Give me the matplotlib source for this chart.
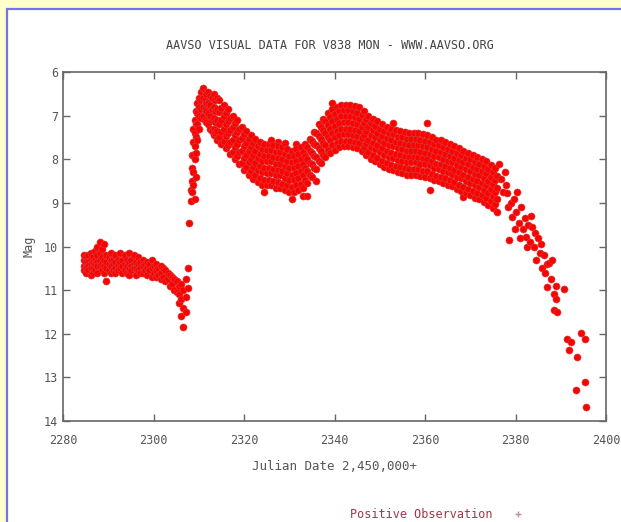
import matplotlib
matplotlib.use('Agg')
import matplotlib.pyplot as plt
from matplotlib.patches import Rectangle
from matplotlib.lines import Line2D

# --- data (JD - 2,450,000, visual mag) ---

# quiescence before the outburst, one list of estimates per night
jd_quiet = [2284.6, 2285.1, 2285.6, 2286.1, 2286.6, 2287.1, 2287.6, 2288.1, 2288.6, 2289.1,
            2289.6, 2290.1, 2290.6, 2291.1, 2291.6, 2292.1, 2292.6, 2293.1, 2293.6, 2294.1,
            2294.6, 2295.1, 2295.6, 2296.1, 2296.6, 2297.1, 2297.6, 2298.1, 2298.6, 2299.1,
            2299.6, 2300.1, 2300.6, 2301.1, 2301.6, 2302.1, 2302.6, 2303.1, 2303.6, 2304.1,
            2304.6, 2305.1, 2305.6, 2306.1, 2306.6, 2307.1, 2307.6]
mag_quiet = [[10.3, 10.45, 10.55, 10.2], [10.25, 10.4, 10.5, 10.6, 10.35], [10.2, 10.35, 10.45, 10.55],
             [10.3, 10.4, 10.5, 10.65, 10.15], [10.25, 10.35, 10.5, 10.6], [10.1, 10.3, 10.4, 10.55],
             [10.0, 10.2, 10.35, 10.45, 10.6], [9.9, 10.15, 10.3, 10.45], [10.05, 10.25, 10.4, 10.55],
             [9.95, 10.3, 10.45, 10.6], [10.2, 10.35, 10.5, 10.8], [10.25, 10.4, 10.55],
             [10.15, 10.3, 10.45, 10.6], [10.3, 10.4, 10.55], [10.2, 10.35, 10.5, 10.6],
             [10.3, 10.45, 10.55], [10.15, 10.35, 10.5], [10.3, 10.45, 10.6], [10.2, 10.4, 10.55],
             [10.3, 10.45, 10.6], [10.15, 10.35, 10.5, 10.65], [10.3, 10.45, 10.55], [10.2, 10.4, 10.5],
             [10.35, 10.5, 10.65], [10.25, 10.4, 10.55], [10.35, 10.5, 10.6], [10.3, 10.45, 10.6],
             [10.4, 10.55], [10.35, 10.5, 10.65], [10.4, 10.55], [10.3, 10.5, 10.7], [10.45, 10.6],
             [10.4, 10.55, 10.7], [10.5, 10.65], [10.45, 10.6, 10.75], [10.5, 10.7], [10.55, 10.8],
             [10.6, 10.75], [10.65, 10.9], [10.7, 10.85], [10.75, 11.0], [10.8, 11.05],
             [10.9, 11.1, 11.3], [10.85, 11.2, 11.6], [11.0, 11.4, 11.85], [10.75, 11.15, 11.5],
             [10.5, 10.95]]

# the fast rise and the first maximum
jd_rise = [2307.9, 2308.2, 2308.5, 2308.8, 2309.1, 2309.4, 2309.7, 2310.0, 2310.5, 2310.9,
           2311.3, 2311.7, 2312.1, 2312.5, 2312.9, 2313.3, 2313.7, 2314.1]
mag_rise = [[9.46], [8.95, 8.7], [8.5, 8.2, 7.9, 8.75], [7.6, 7.9, 8.3, 8.6, 7.3],
            [7.1, 7.4, 7.7, 8.0, 8.9], [6.9, 7.2, 7.5, 7.85, 8.4], [6.7, 6.95, 7.2, 7.55],
            [6.6, 6.8, 7.0, 7.3], [6.45, 6.65, 6.85, 7.05], [6.37, 6.6, 6.8, 7.0],
            [6.45, 6.65, 6.85, 7.1], [6.5, 6.7, 6.9, 7.15], [6.45, 6.7, 6.95, 7.2],
            [6.55, 6.75, 7.0, 7.3], [6.6, 6.85, 7.1, 7.35], [6.5, 6.8, 7.05, 7.3, 7.45],
            [6.65, 6.9, 7.15, 7.4], [6.6, 6.85, 7.1, 7.35, 7.55]]

# the long plateau with the second maximum
jd_plateau = [2314.5, 2315.0, 2315.5, 2316.0, 2316.5, 2317.0, 2317.5, 2318.0, 2318.5, 2319.0,
              2319.5, 2320.0, 2320.5, 2321.0, 2321.5, 2322.0, 2322.5, 2323.0, 2323.5, 2324.0,
              2324.5, 2325.0, 2325.5, 2326.0, 2326.5, 2327.0, 2327.5, 2328.0, 2328.5, 2329.0,
              2329.5, 2330.0, 2330.5, 2331.0, 2331.5, 2332.0, 2332.5, 2333.0, 2333.5, 2334.0,
              2334.5, 2335.0, 2335.5, 2336.0, 2336.5, 2337.0, 2337.5, 2338.0, 2338.5, 2339.0,
              2339.5, 2340.0, 2340.5, 2341.0, 2341.5, 2342.0, 2342.5, 2343.0, 2343.5, 2344.0,
              2344.5, 2345.0, 2345.5, 2346.0, 2346.5, 2347.0, 2347.5, 2348.0, 2348.5, 2349.0,
              2349.5, 2350.0, 2350.5, 2351.0, 2351.5, 2352.0, 2352.5, 2353.0, 2353.5, 2354.0,
              2354.5, 2355.0, 2355.5, 2356.0, 2356.5, 2357.0, 2357.5, 2358.0, 2358.5, 2359.0,
              2359.5, 2360.0, 2360.5, 2361.0, 2361.5, 2362.0, 2362.5, 2363.0, 2363.5, 2364.0,
              2364.5, 2365.0, 2365.5, 2366.0, 2366.5, 2367.0, 2367.5, 2368.0, 2368.5, 2369.0,
              2369.5, 2370.0, 2370.5, 2371.0, 2371.5, 2372.0, 2372.5, 2373.0, 2373.5, 2374.0,
              2374.5, 2375.0, 2375.5, 2376.0]
mag_plateau = [
    [6.65, 6.92, 7.2, 7.48], [6.83, 7.1, 7.37, 7.65], [6.75, 7.02, 7.3, 7.58], [6.93, 7.2, 7.47, 7.75],
    [6.85, 7.12, 7.4, 7.68], [7.06, 7.33, 7.6, 7.88], [7.0, 7.27, 7.55, 7.83], [7.18, 7.45, 7.72, 8.0],
    [7.1, 7.37, 7.65, 7.93], [7.3, 7.57, 7.84, 8.12], [7.25, 7.52, 7.8, 8.08], [7.43, 7.7, 7.97, 8.25],
    [7.35, 7.62, 7.9, 8.18], [7.53, 7.8, 8.07, 8.35], [7.45, 7.72, 8.0, 8.28], [7.63, 7.9, 8.17, 8.45],
    [7.53, 7.8, 8.08, 8.36], [7.7, 7.97, 8.24, 8.52], [7.6, 7.87, 8.15, 8.43], [7.76, 8.03, 8.3, 8.58],
    [7.65, 7.92, 8.2, 8.48, 8.75], [7.78, 8.05, 8.32, 8.6], [7.65, 7.92, 8.2, 8.48],
    [7.55, 7.78, 8.05, 8.32, 8.6], [7.67, 7.94, 8.22, 8.5], [7.83, 8.1, 8.37, 8.65],
    [7.6, 7.7, 7.97, 8.25, 8.53], [7.83, 8.1, 8.37, 8.65], [7.73, 8.0, 8.28, 8.56],
    [7.62, 7.88, 8.15, 8.42, 8.7], [7.77, 8.04, 8.32, 8.6], [7.93, 8.2, 8.47, 8.75],
    [7.8, 8.07, 8.35, 8.63, 8.9], [7.93, 8.2, 8.47, 8.75], [7.65, 7.77, 8.04, 8.32, 8.6],
    [7.88, 8.15, 8.42, 8.7], [7.73, 8.0, 8.28, 8.56], [7.83, 8.1, 8.37, 8.65, 8.85],
    [7.65, 7.92, 8.2, 8.48], [7.73, 8.0, 8.27, 8.55, 8.85], [7.53, 7.8, 8.08, 8.36],
    [7.58, 7.85, 8.12, 8.4], [7.37, 7.64, 7.92, 8.2], [7.4, 7.67, 7.94, 8.22, 8.5],
    [7.2, 7.47, 7.75, 8.03], [7.26, 7.53, 7.8, 8.08], [7.07, 7.34, 7.62, 7.9], [7.13, 7.4, 7.67, 7.95],
    [6.95, 7.22, 7.5, 7.78], [7.03, 7.3, 7.57, 7.85], [6.72, 6.85, 7.12, 7.4, 7.68],
    [6.96, 7.23, 7.5, 7.78], [6.8, 7.07, 7.35, 7.63], [6.9, 7.17, 7.44, 7.72], [6.75, 7.02, 7.3, 7.58],
    [6.88, 7.15, 7.42, 7.7], [6.75, 7.02, 7.3, 7.58], [6.88, 7.15, 7.42, 7.7], [6.75, 7.02, 7.3, 7.58],
    [6.9, 7.17, 7.44, 7.72], [6.77, 7.04, 7.32, 7.6], [6.93, 7.2, 7.47, 7.75], [6.8, 7.07, 7.35, 7.63],
    [6.98, 7.25, 7.52, 7.8], [6.9, 7.17, 7.45, 7.73], [7.08, 7.35, 7.62, 7.9], [7.0, 7.27, 7.55, 7.83],
    [7.18, 7.45, 7.72, 8.0], [7.07, 7.34, 7.62, 7.9], [7.23, 7.5, 7.77, 8.05], [7.13, 7.4, 7.68, 7.96],
    [7.3, 7.57, 7.84, 8.12], [7.2, 7.47, 7.75, 8.03], [7.36, 7.63, 7.9, 8.18], [7.25, 7.52, 7.8, 8.08],
    [7.4, 7.67, 7.94, 8.22], [7.3, 7.57, 7.85, 8.13], [7.17, 7.43, 7.7, 7.97, 8.25],
    [7.33, 7.6, 7.88, 8.16], [7.48, 7.75, 8.02, 8.3], [7.35, 7.62, 7.9, 8.18], [7.5, 7.77, 8.04, 8.32],
    [7.37, 7.64, 7.92, 8.2], [7.53, 7.8, 8.07, 8.35], [7.4, 7.67, 7.95, 8.23], [7.53, 7.8, 8.07, 8.35],
    [7.4, 7.67, 7.95, 8.23], [7.53, 7.8, 8.07, 8.35], [7.4, 7.67, 7.95, 8.23], [7.56, 7.83, 8.1, 8.38],
    [7.43, 7.7, 7.98, 8.26], [7.58, 7.85, 8.12, 8.4], [7.17, 7.45, 7.72, 8.0, 8.28],
    [7.6, 7.87, 8.14, 8.42, 8.7], [7.5, 7.77, 8.05, 8.33], [7.66, 7.93, 8.2, 8.48],
    [7.55, 7.82, 8.1, 8.38], [7.68, 7.95, 8.22, 8.5], [7.57, 7.84, 8.12, 8.4], [7.73, 8.0, 8.27, 8.55],
    [7.6, 7.87, 8.15, 8.43], [7.76, 8.03, 8.3, 8.58], [7.65, 7.92, 8.2, 8.48], [7.8, 8.07, 8.34, 8.62],
    [7.7, 7.97, 8.25, 8.53], [7.86, 8.13, 8.4, 8.68], [7.75, 8.02, 8.3, 8.58], [7.9, 8.17, 8.44, 8.72],
    [7.8, 8.07, 8.35, 8.63, 8.87], [7.96, 8.23, 8.5, 8.78], [7.85, 8.12, 8.4, 8.68],
    [8.0, 8.27, 8.54, 8.82], [7.9, 8.17, 8.45, 8.73], [8.06, 8.33, 8.6, 8.88], [7.95, 8.22, 8.5, 8.78],
    [8.1, 8.37, 8.64, 8.92], [8.0, 8.27, 8.55, 8.83], [8.16, 8.43, 8.7, 8.98], [8.05, 8.32, 8.6, 8.88],
    [8.23, 8.5, 8.77, 9.05], [8.13, 8.4, 8.68, 8.96], [8.3, 8.57, 8.84, 9.12], [8.2, 8.47, 8.75, 9.03],
    [8.38, 8.65, 8.92, 9.2]]

# final fade, single estimates
jd_fade = [2376.4, 2376.8, 2377.2, 2377.6, 2378.0, 2378.2, 2378.4, 2378.6, 2379.0, 2379.3,
           2379.6, 2379.8, 2380.0, 2380.4, 2380.8, 2381.0, 2381.2, 2381.6, 2382.0, 2382.4,
           2382.6, 2382.8, 2383.2, 2383.5, 2383.7, 2384.1, 2384.4, 2384.6, 2385.0, 2385.4,
           2385.6, 2385.8, 2386.2, 2386.6, 2386.9, 2387.0, 2387.5, 2387.8, 2388.1, 2388.4,
           2388.6, 2388.9, 2389.0, 2389.2, 2390.8, 2391.4, 2391.9, 2392.2, 2393.4, 2393.6,
           2394.5, 2395.4, 2395.4, 2395.6]
mag_fade = [8.1, 8.45, 8.75, 8.3, 8.6, 8.77, 9.1, 9.85, 9.0, 9.32,
            8.9, 9.6, 9.2, 8.75, 9.45, 9.8, 9.1, 9.6, 9.35, 9.78,
            10.0, 9.5, 9.9, 9.3, 9.55, 10.0, 9.7, 10.31, 9.8, 10.15,
            9.95, 10.5, 10.2, 10.6, 10.4, 10.93, 10.38, 10.75, 10.3, 11.1,
            11.45, 10.9, 11.2, 11.5, 10.97, 12.12, 12.37, 12.2, 13.29, 12.53,
            11.98, 12.12, 13.11, 13.68]

x_ticks = [2280, 2300, 2320, 2340, 2360, 2380, 2400]
y_ticks = [6, 7, 8, 9, 10, 11, 12, 13, 14]

# flatten the nightly groups into x/y pairs
jd_all, mag_all = [], []
for days, groups in [(jd_quiet, mag_quiet), (jd_rise, mag_rise), (jd_plateau, mag_plateau)]:
    for d, g in zip(days, groups):
        jd_all += [d] * len(g)
        mag_all += g
jd_all += jd_fade
mag_all += mag_fade

font = 'DejaVu Sans Mono'
txt = '#555555'

fig = plt.figure(figsize=(6.21, 5.22), dpi=100)
fig.patch.set_facecolor('#ffffcc')
# white page with the blue frame, as on the web page
fig.patches.append(Rectangle((7 / 621, -0.05), 1.1, 1 - 9 / 522 + 0.05, transform=fig.transFigure,
                             facecolor='white', edgecolor='#7474ee', lw=1.6, zorder=-10))

ax = fig.add_axes([63 / 621, 1 - 421 / 522, (606 - 63) / 621, (421 - 72) / 522])
ax.set_zorder(5)
ax.patch.set_alpha(0)
ax.scatter(jd_all, mag_all, s=26, marker='o', facecolor='#ff0000', edgecolor='#c84848',
           linewidths=0.4, zorder=3)

ax.set_xlim(2280, 2400)
ax.set_ylim(14, 6)
ax.set_xticks(x_ticks)
ax.set_yticks(y_ticks)
ax.tick_params(direction='in', length=5, width=1, color='#666666', top=True, right=True,
               labelsize=8.5, labelcolor=txt)
ax.tick_params(axis='x', pad=9)
for lab in ax.get_xticklabels() + ax.get_yticklabels():
    lab.set_fontfamily(font)
for sp in ax.spines.values():
    sp.set_color('#666666')
    sp.set_linewidth(1.2)

ax.set_xlabel('Julian Date 2,450,000+', fontsize=9, family=font, color=txt, labelpad=10)
ax.set_ylabel('Mag', fontsize=8.5, family=font, color=txt, labelpad=6)
fig.text(330 / 621, 1 - 45 / 522, 'AAVSO VISUAL DATA FOR V838 MON - WWW.AAVSO.ORG',
         ha='center', va='center', fontsize=8.5, family=font, color='#444444')

marker = Line2D([], [], marker='+', color='#c09090', linestyle='None', markersize=5)
ax.legend(handles=[marker], labels=['Positive Observation'], loc='center',
          bbox_to_anchor=(440 / 621, 1 - 515 / 522), bbox_transform=fig.transFigure,
          frameon=False, markerfirst=False, prop={'family': font, 'size': 8.5},
          labelcolor='#a03848', handletextpad=1.2)

fig.savefig('out.png', dpi=100, facecolor=fig.get_facecolor())
